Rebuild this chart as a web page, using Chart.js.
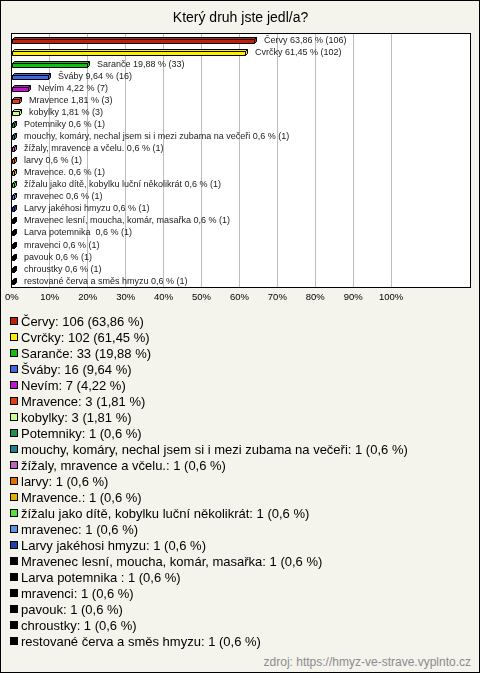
<!DOCTYPE html>
<html>
<head>
<meta charset="utf-8">
<script src="https://cdn.jsdelivr.net/npm/chart.js@4"></script>
<style>
  body { margin: 0; }
  #box { position: relative; width: 480px; height: 673px; background: #f4f3ec; font-family: Arial, "Liberation Sans", sans-serif; overflow: hidden; }
  #frame { position: absolute; left: 0; top: 0; width: 480px; height: 673px; box-sizing: border-box; border: 1px solid #000; }
  #chart { position: absolute; left: 0; top: 0; }
  #legend { position: absolute; left: 10px; top: 313px; font-size: 13px; color: #000; }
  #legend .row { display: flex; align-items: center; height: 16px; white-space: pre; }
  #legend .sq { width: 6px; height: 6px; border: 1px solid #000; margin-right: 3px; flex: none; }
  #source { position: absolute; right: 9px; top: 654px; font-size: 12px; line-height: 16px; color: #8c8c8c; }
</style>
</head>
<body>
<div id="box">
  <div id="frame"></div>
  <canvas id="chart" width="480" height="314"></canvas>
  <div id="legend"></div>
  <div id="source">zdroj: https://hmyz-ve-strave.vyplnto.cz</div>
</div>
<script>
var categories = ['Červy', 'Cvrčky', 'Saranče', 'Šváby', 'Nevím', 'Mravence', 'kobylky', 'Potemniky',
    'mouchy, komáry, nechal jsem si i mezi zubama na večeři', 'žížaly, mravence a včelu.', 'larvy',
    'Mravence.', 'žížalu jako dítě, kobylku luční několikrát', 'mravenec', 'Larvy jakéhosi hmyzu',
    'Mravenec lesní, moucha, komár, masařka', 'Larva potemnika ', 'mravenci', 'pavouk', 'chroustky',
    'restované červa a směs hmyzu'];
var counts = [106, 102, 33, 16, 7, 3, 3, 1, 1, 1, 1, 1, 1, 1, 1, 1, 1, 1, 1, 1, 1];
var percents = [63.86, 61.45, 19.88, 9.64, 4.22, 1.81, 1.81, 0.6, 0.6, 0.6, 0.6, 0.6, 0.6, 0.6, 0.6, 0.6, 0.6, 0.6, 0.6, 0.6, 0.6];
var barColors = ['#c0200c', '#ffee00', '#10c010', '#4466dd', '#c010d0', '#e04010', '#c8ff90', '#209050',
    '#208090', '#c060c0', '#e07000', '#e0b000', '#50e040', '#6090e0', '#2040b0',
    '#000000', '#000000', '#000000', '#000000', '#000000', '#000000'];
var tickValues = [0, 10, 20, 30, 40, 50, 60, 70, 80, 90, 100];

var FONT = 'Arial, "Liberation Sans", sans-serif';

function czNum(v) {
    return String(v).replace('.', ',');
}

// white plot area with black frame, 3D-ish bars and value labels
var boxPlugin = {
    id: 'boxPlugin',
    beforeDraw: function (chart) {
        var a = chart.chartArea, c = chart.ctx;
        c.save();
        c.fillStyle = '#fff';
        c.fillRect(a.left, a.top, a.right - a.left, a.bottom - a.top);
        c.restore();
    },
    afterDatasetsDraw: function (chart) {
        var c = chart.ctx;
        var meta = chart.getDatasetMeta(0);
        var d = 2;
        c.save();
        c.lineWidth = 1;
        c.strokeStyle = '#000';
        meta.data.forEach(function (el, i) {
            var x0 = Math.round(el.base) + 0.5;
            var x1 = Math.round(el.x) + 0.5;
            var yc = Math.round(el.y);
            var ft = yc - 1 + 0.5, fb = yc + 3 + 0.5;
            c.fillStyle = barColors[i];
            // top face
            c.beginPath();
            c.moveTo(x0, ft); c.lineTo(x0 + d, ft - d); c.lineTo(x1 + d, ft - d); c.lineTo(x1, ft); c.closePath();
            c.fill(); c.stroke();
            // side face
            c.beginPath();
            c.moveTo(x1, ft); c.lineTo(x1 + d, ft - d); c.lineTo(x1 + d, fb - d); c.lineTo(x1, fb); c.closePath();
            c.fill(); c.stroke();
            // front face
            c.beginPath();
            c.rect(x0, ft, x1 - x0, fb - ft);
            c.fill(); c.stroke();

            c.fillStyle = '#222';
            c.font = '9px ' + FONT;
            c.textBaseline = 'middle';
            c.textAlign = 'left';
            c.fillText(categories[i] + ' ' + czNum(percents[i]) + ' % (' + counts[i] + ')', Math.round(el.x) + 10, yc + 0.5);
        });
        c.restore();
    },
    afterDraw: function (chart) {
        var a = chart.chartArea, c = chart.ctx;
        c.save();
        c.strokeStyle = '#000';
        c.lineWidth = 1;
        c.strokeRect(Math.round(a.left) - 0.5, Math.round(a.top) - 0.5, Math.round(a.right - a.left) + 1, Math.round(a.bottom - a.top) + 1);
        c.restore();
    }
};

var ctx = document.getElementById('chart').getContext('2d');
var myChart = new Chart(ctx, {
    type: 'bar',
    data: {
        labels: categories,
        datasets: [{
            data: percents,
            backgroundColor: 'rgba(0,0,0,0)',
            borderWidth: 0,
            barThickness: 4
        }]
    },
    options: {
        indexAxis: 'y',
        responsive: false,
        animation: false,
        devicePixelRatio: 1,
        layout: { padding: { left: 11, right: 10, top: 0, bottom: 6 } },
        plugins: {
            legend: { display: false },
            tooltip: { enabled: false },
            title: {
                display: true,
                text: 'Který druh jste jedl/a?',
                color: '#000',
                font: { family: FONT, size: 14, weight: 'normal', lineHeight: 1.2 },
                padding: { top: 10, bottom: 7.2 }
            }
        },
        scales: {
            x: {
                min: 0,
                max: 120.8,
                afterBuildTicks: function (scale) {
                    scale.ticks = tickValues.map(function (v) { return { value: v }; });
                },
                grid: { color: '#bdbdbd', drawTicks: false },
                border: { display: false },
                ticks: {
                    padding: 5,
                    color: '#000',
                    autoSkip: false,
                    maxRotation: 0,
                    font: { family: FONT, size: 9.5 },
                    callback: function (v) { return v + '%'; }
                }
            },
            y: { display: false }
        }
    },
    plugins: [boxPlugin]
});

// legend below the chart
var legend = document.getElementById('legend');
categories.forEach(function (name, i) {
    var row = document.createElement('div');
    row.className = 'row';
    var sq = document.createElement('span');
    sq.className = 'sq';
    sq.style.background = barColors[i];
    row.appendChild(sq);
    row.appendChild(document.createTextNode(name + ': ' + counts[i] + ' (' + czNum(percents[i]) + ' %)'));
    legend.appendChild(row);
});
</script>
</body>
</html>
